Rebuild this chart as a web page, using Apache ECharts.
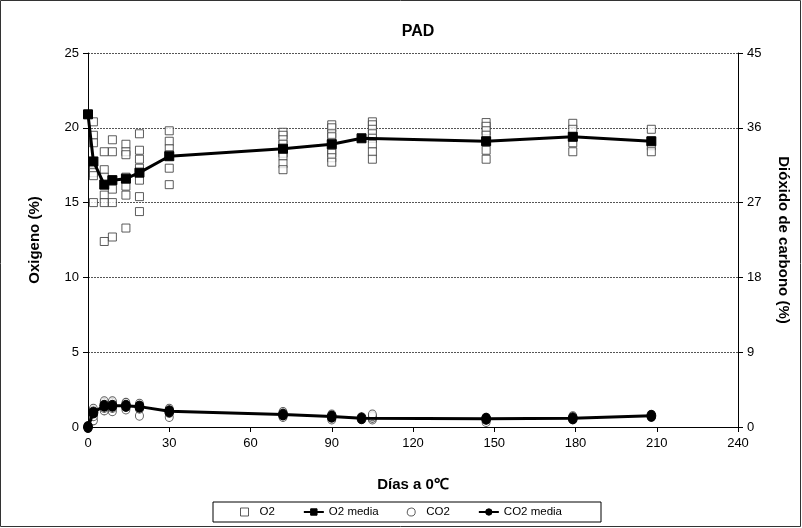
<!DOCTYPE html>
<html>
<head>
<meta charset="utf-8">
<script src="https://cdn.jsdelivr.net/npm/echarts@6/dist/echarts.min.js"></script>
<style>
  html, body { margin: 0; padding: 0; background: #fff; }
  #chart { width: 802px; height: 528px; }
</style>
</head>
<body>
<div id="chart"></div>
<script>
// media (mean) values per sampling day
const mediaDays = [0, 2, 6, 9, 14, 19, 30, 72, 90, 101, 147, 179, 208]
const o2Media = [20.9, 17.75, 16.2, 16.5, 16.6, 17.0, 18.1, 18.6, 18.9, 19.3, 19.1, 19.4, 19.1]
const co2Media = [0, 1.75, 2.55, 2.55, 2.55, 2.45, 1.9, 1.5, 1.25, 1.05, 1.0, 1.05, 1.35]

// individual readings
const rawDays = [0, 2, 6, 9, 14, 19, 30, 72, 90, 105, 147, 179, 208]
const o2Raw = [
  [20.9],
  [20.4, 19.5, 19.0, 17.6, 17.3, 17.0, 16.8, 15.0],
  [18.4, 17.2, 16.7, 15.5, 15.0, 12.4],
  [19.2, 18.4, 16.5, 15.9, 15.0, 12.7],
  [18.9, 18.4, 18.2, 16.7, 16.1, 15.5, 13.3],
  [19.6, 18.5, 17.9, 17.3, 16.5, 15.4, 14.4],
  [19.8, 19.1, 18.6, 18.2, 17.3, 16.2],
  [19.7, 19.5, 19.2, 18.9, 18.3, 18.1, 17.6, 17.2],
  [20.2, 20.0, 19.6, 19.4, 19.0, 18.5, 18.3, 18.0, 17.7],
  [20.4, 20.2, 19.9, 19.6, 19.3, 18.9, 18.4, 17.9],
  [20.35, 20.1, 19.8, 19.5, 19.1, 18.5, 17.9],
  [20.3, 19.9, 19.4, 19.0, 18.4],
  [19.9, 19.1, 18.8, 18.4]
]
const co2Raw = [
  [0],
  [0.8, 1.3, 1.7, 2.0, 2.2],
  [2.0, 2.3, 2.6, 2.9, 3.1],
  [1.9, 2.3, 2.6, 2.9, 3.1],
  [2.1, 2.4, 2.6, 2.9],
  [1.35, 2.2, 2.5, 2.8],
  [1.2, 1.7, 2.0, 2.2],
  [1.2, 1.5, 1.8],
  [0.9, 1.2, 1.5],
  [0.9, 1.1, 1.3, 1.5],
  [0.6, 0.9, 1.1],
  [0.9, 1.1, 1.3],
  [1.2, 1.4]
]

const pairs = (xs, ys) => xs.map((x, i) => [x, ys[i]])
const flat = (xs, groups) => xs.flatMap((x, i) => groups[i].map(v => [x, v]))

const chart = echarts.init(document.getElementById('chart'))
const font = 'Liberation Sans, Arial, sans-serif'

let option = {
  animation: false,
  textStyle: { fontFamily: font, color: '#000' },
  title: {
    text: 'PAD',
    left: 413, top: 19, textAlign: 'center',
    textStyle: { fontFamily: font, fontSize: 16, fontWeight: 'bold', color: '#000' }
  },
  grid: { left: 88, right: 64, top: 53, bottom: 101 },
  graphic: [{
    type: 'rect',
    shape: { x: 0.5, y: 0.5, width: 800, height: 526 },
    style: { fill: 'none', stroke: '#333', lineWidth: 1 },
    silent: true
  }],
  legend: {
    left: 213, top: 502,
    padding: [4, 39, 4, 27],
    borderColor: '#000', borderWidth: 1, borderRadius: 0,
    itemWidth: 20, itemHeight: 8, itemGap: 28,
    itemStyle: { borderWidth: 1 },
    textStyle: { fontFamily: font, fontSize: 11.5, color: '#000' },
    data: [
      { name: 'O2', icon: 'path://M0,0L10,0L10,10L0,10Z' },
      'O2 media',
      { name: 'CO2', icon: 'path://M5,0A5,5,0,1,1,4.99,0Z' },
      'CO2 media'
    ]
  },
  xAxis: {
    type: 'value', min: 0, max: 240, interval: 30,
    name: 'Días a 0℃', nameLocation: 'middle', nameGap: 50,
    nameTextStyle: { fontFamily: font, fontSize: 15, fontWeight: 'bold', color: '#000' },
    axisLine: { lineStyle: { color: '#000', width: 1 } },
    axisTick: { inside: false, length: 5, lineStyle: { color: '#000' } },
    axisLabel: { fontSize: 13, color: '#000', margin: 10 },
    splitLine: { show: false }
  },
  yAxis: [{
    type: 'value', min: 0, max: 25, interval: 5,
    name: 'Oxigeno (%)', nameLocation: 'middle', nameGap: 46,
    nameTextStyle: { fontFamily: font, fontSize: 15, fontWeight: 'bold', color: '#000' },
    axisLine: { show: true, lineStyle: { color: '#000', width: 1 } },
    axisTick: { show: true, length: 5, lineStyle: { color: '#000' } },
    axisLabel: { fontSize: 13, color: '#000', margin: 9 },
    splitLine: { show: true, lineStyle: { color: '#555', type: [2, 1], width: 1 } }
  }, {
    type: 'value', min: 0, max: 45, interval: 9,
    name: 'Dióxido de carbono (%)', nameLocation: 'middle', nameGap: 38,
    nameRotate: -90,
    nameTextStyle: { fontFamily: font, fontSize: 15, fontWeight: 'bold', color: '#000' },
    axisLine: { show: true, lineStyle: { color: '#000', width: 1 } },
    axisTick: { show: true, length: 5, lineStyle: { color: '#000' } },
    axisLabel: { fontSize: 13, color: '#000', margin: 9 },
    splitLine: { show: false }
  }],
  series: [
    {
      name: 'O2', type: 'scatter', yAxisIndex: 0,
      symbol: 'rect', symbolSize: 8, symbolKeepAspect: true,
      itemStyle: { color: '#fff', borderColor: '#333', borderWidth: 1 },
      data: flat(rawDays, o2Raw)
    },
    {
      name: 'O2 media', type: 'line', yAxisIndex: 0,
      symbol: 'rect', symbolSize: 9, showSymbol: true,
      lineStyle: { color: '#000', width: 3 },
      itemStyle: { color: '#000', borderColor: '#000' },
      data: pairs(mediaDays, o2Media)
    },
    {
      name: 'CO2', type: 'scatter', yAxisIndex: 1,
      symbol: 'circle', symbolSize: [8, 9], symbolKeepAspect: true,
      itemStyle: { color: '#fff', borderColor: '#333', borderWidth: 1 },
      data: flat(rawDays, co2Raw)
    },
    {
      name: 'CO2 media', type: 'line', yAxisIndex: 1,
      symbol: 'circle', symbolSize: [9, 11], showSymbol: true,
      lineStyle: { color: '#000', width: 3 },
      itemStyle: { color: '#000', borderColor: '#000' },
      data: pairs(mediaDays, co2Media)
    }
  ]
}
chart.setOption(option)
</script>
</body>
</html>
